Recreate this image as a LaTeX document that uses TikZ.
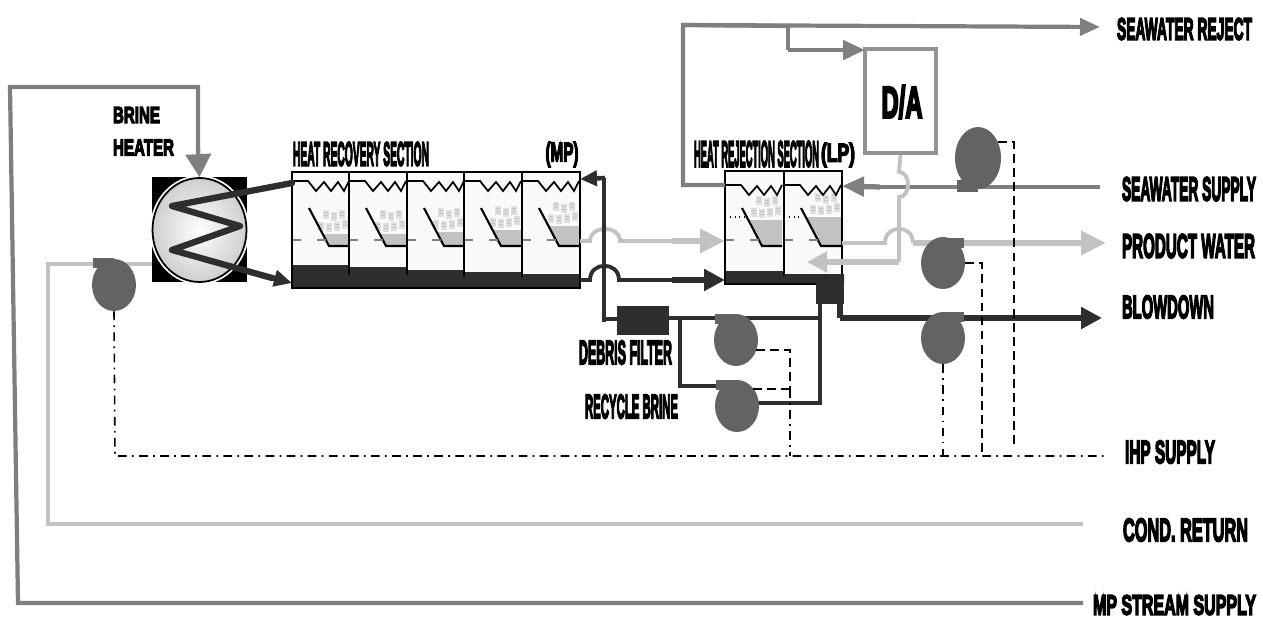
\documentclass[tikz,border=0pt]{standalone}
\usepackage{fontspec}
\usepackage{xcolor}
\usetikzlibrary{arrows.meta, positioning, shapes.geometric, calc}
\newfontfamily\lblfont[BoldFeatures={FakeBold=6}]{Liberation Sans}
\definecolor{steamgray}{HTML}{7F7F7F}
\definecolor{palegray}{HTML}{C2C2C2}
\definecolor{brinedark}{HTML}{2E2E2E}
\definecolor{pumpgray}{HTML}{636363}
\newlength\pxu
\setlength\pxu{0.02cm}
\newcommand{\fitlbl}[3]{\resizebox*{#1\pxu}{#2\pxu}{\lblfont\bfseries #3}}

%% one flash stage: left wall x, pool top y, coil y
\newcommand{\stagebits}[3]{%
  \fill[palegray] (#1+17+0.526*#2-109.4,#2) -- (#1+57,#2) -- (#1+57,246) -- (#1+37,246) -- cycle;
  \foreach \dx/\dy in {31/24, 39/22, 47/24, 26/12, 34/11, 42/12, 50/14}{
    \fill[gray!25] (#1+\dx,#2-\dy) rectangle ++(6,9);
    \draw[gray!60, line width=.3pt] (#1+\dx+1,#2-\dy+2) -- ++(4,1) (#1+\dx+1,#2-\dy+5) -- ++(4,1);
  }
  \draw[black, line width=1pt] (#1,#3) -- ++(16,0) -- ++(8,10) -- ++(8,-9) -- ++(7,9)
    -- ++(7,-9) -- ++(6,9) -- ++(5,-10);
  \draw[black, line width=1.2pt] (#1+17,208) -- (#1+37,246) -- (#1+57,246);
  \draw[gray, line width=.7pt] (#1,240) -- ++(9,0) (#1+25,240) -- ++(9,0);
}

\begin{document}
\begin{tikzpicture}[x=0.02cm, y=-0.02cm,
  lbl/.style={inner sep=0pt, outer sep=0pt},
  wall/.style={black, line width=1.3pt},
  steamline/.style={draw=steamgray, line width=2.4pt},
  paleline/.style={draw=palegray, line width=2.2pt},
  brineline/.style={draw=brinedark, line width=2.2pt},
  brineshaft/.style={draw=brinedark, line width=3.6pt},
  steamarr/.style={-{Triangle[length=.46cm, width=.5cm]}, draw=steamgray, fill=steamgray, line width=2.4pt},
  smallarr/.style={-{Triangle[length=.44cm, width=.38cm]}, draw=steamgray, fill=steamgray, line width=2.7pt},
  palearr/.style={-{Triangle[length=.5cm, width=.46cm]}, draw=palegray, fill=palegray, line width=3.6pt},
  brinearr/.style={-{Triangle[length=.42cm, width=.42cm]}, draw=brinedark, fill=brinedark, line width=3.6pt},
  pumpbody/.style={ellipse, fill=pumpgray, inner sep=0pt, minimum width=.88cm, minimum height=1.04cm},
  spout/.style={fill=pumpgray},
  ctrldash/.style={black, line width=.9pt, dash pattern=on 5pt off 3pt},
  ctrlmix/.style={black, line width=.9pt, dash pattern=on 5pt off 3pt on 1pt off 3pt},
  heaterball/.style={ellipse, draw=black, line width=1pt, inner sep=0pt,
    minimum width=1.88cm, minimum height=2.08cm, inner color=white, outer color=gray!38,
    preaction={draw=white, line width=3pt}}
]
\useasboundingbox (0,0) rectangle (1263,619);

%% ==== Labels ====
\node[lbl] (lblReject) at (1184.5,29) {\fitlbl{135}{22}{SEAWATER REJECT}};
\node[lbl] (lblSupply) at (1189,189) {\fitlbl{134}{24}{SEAWATER SUPPLY}};
\node[lbl] (lblProduct) at (1188.5,246) {\fitlbl{133}{24}{PRODUCT WATER}};
\node[lbl] (lblBlow) at (1168,307) {\fitlbl{92}{23}{BLOWDOWN}};
\node[lbl] (lblIhp) at (1170,452) {\fitlbl{90}{23}{IHP SUPPLY}};
\node[lbl] (lblCond) at (1185.5,530) {\fitlbl{125}{23}{COND. RETURN}};
\node[lbl] (lblMp) at (1174.5,605) {\fitlbl{163}{20}{MP STREAM SUPPLY}};
\node[lbl] (lblBrine) at (136.5,115) {\fitlbl{47}{16}{BRINE}};
\node[lbl] (lblHeater) at (143.5,147.5) {\fitlbl{61}{16}{HEATER}};
\node[lbl] (lblRecovery) at (361,154) {\fitlbl{136}{24}{HEAT RECOVERY SECTION}};
\node[lbl] (lblMpStage) at (562,154.5) {\fitlbl{33}{25}{(MP)}};
\node[lbl] (lblRejection) at (756.5,154) {\fitlbl{125}{26}{HEAT REJECTION SECTION}};
\node[lbl] (lblLp) at (838,155) {\fitlbl{34}{24}{(LP)}};
\node[lbl] (lblDebris) at (625.5,352.5) {\fitlbl{93}{24}{DEBRIS FILTER}};
\node[lbl] (lblRecycle) at (631.5,406.5) {\fitlbl{93}{24}{RECYCLE BRINE}};

%% ==== Junctions ====
\coordinate (rejCorner) at (683,25);
\coordinate (rejTip) at (1100,27);
\coordinate (daTee) at (788,26);
\coordinate (daBend) at (788,50);
\coordinate (daIn) at (865,50);
\coordinate (ihpEnd) at (1108,456);
\coordinate (ihpStart) at (115,456);
\coordinate (mpEnd) at (1083,603);
\coordinate (mpLow) at (18,603);
\coordinate (mpHigh) at (10,87);
\coordinate (mpRight) at (198,87);
\coordinate (condEnd) at (1083,524);
\coordinate (condIn) at (152,264);
\coordinate (loopDown) at (820,304);
\coordinate (blowOut) at (840,304);
\coordinate (blowBend) at (840,318);
\coordinate (blowTip) at (1102,318);

%% ==== Main equipment ====
\fill[black] (152,177) rectangle (247,282);
\node[heaterball] (heater) at (199.5,230) {};
\fill[white] (292,171) rectangle (580,288);
\fill[gray!4] (292,171) rectangle (580,275);
\fill[white] (725,171) rectangle (842,284);
\fill[gray!4] (725,171) rectangle (842,275);

%% ==== Recovery stages ====
\fill[brinedark] (292,265) -| (349,267) -| (407,270) -| (464,272) -| (522,274) -| (580,288) -- (292,288) -- cycle;
\foreach \x/\pool in {292/234, 349/234, 407/232, 464/230, 522/226}
  \stagebits{\x}{\pool}{181};
\draw[wall] (292,172) rectangle (580,288);
\foreach \x/\yend in {349/275, 407/275, 464/277, 522/277}
  \draw[wall] (\x,172) -- (\x,\yend);

%% ==== Rejection stages ====
\fill[brinedark] (725,271) -| (784,274) -| (844,284) -- (725,284) -- cycle;
\foreach \x/\pool in {725/220, 784/217}
  \stagebits{\x}{\pool}{185};
\draw[black, line width=.7pt, dotted] (725,217) -- (745,217) (784,217) -- (802,217);
\draw[wall] (725,171) rectangle (842,284);
\draw[wall] (784,171) -- (784,276);
\node[fill=brinedark, minimum width=.56cm, minimum height=.6cm, inner sep=0pt] (flashbox) at (830,289) {};

%% ==== D/A ====
\node[draw=gray!85, line width=2.4pt, minimum width=1.42cm, minimum height=2.08cm, inner sep=0pt] (da) at (900.5,101) {};
\node[lbl] (daText) at (902,102) {\fitlbl{41}{33}{D/A}};

%% ==== Seawater and steam ====
\draw[steamline] (725,185) -| (rejCorner) -- (daTee);
\draw[steamarr, -{Triangle[length=.4cm, width=.34cm]}] (rejCorner) -- (rejTip);
\draw[steamline, line width=2.7pt] (daTee) -- (daBend);
\draw[smallarr] (daBend) -- (daIn);
\draw[steamline, line width=2.2pt] (1100,187) -- (880,187);
\draw[smallarr, line width=3pt] (880,187) -- (842,186);
\draw[steamline] (mpEnd) -- (mpLow) -- (mpHigh) -- (mpRight) -- (198,150);
\draw[steamarr] (198,148) -- (heater.north);

%% ==== Heater tube ====
\draw[brinedark, line width=3.6pt, line join=round, line cap=round] (292,183) -- (172,206) -- (240,226) -- (172,250) -- (272,278);
\draw[brinedark, -{Triangle[length=.36cm, width=.32cm]}, line width=3pt] (270,277) -- (292,283);

%% ==== Condensate, product ====
\draw[paleline] (condEnd) -| (48,264) -- (condIn);
\draw[paleline] (da.south) -- (899,172) .. controls (911,172) and (911,197) .. (899,197) -- (899,262);
\draw[palearr, -{Triangle[length=.4cm, width=.4cm]}, line width=3pt] (899,262) -- (807,262);
\draw[paleline] (842,243) -- (885,243) .. controls (885,224) and (913,224) .. (913,243);
\draw[palearr] (913,243) -- (1106,243);
\draw[paleline] (580,241) -- (590,241) .. controls (590,225) and (620,225) .. (620,241) -- (672,241);
\draw[palearr] (672,241) -- (725,241);

%% ==== Brine loop ====
\draw[brineline] (580,280) -- (590,280) .. controls (590,261) and (619,261) .. (619,280) -- (672,280);
\draw[brinearr] (672,280) -- (725,280);
\draw[brineline] (604,178) -- (604,322);
\draw[brinearr, -{Triangle[length=.34cm, width=.3cm]}, line width=2.6pt] (605,178) -- (580,179);
\draw[brineline] (604,319) -- (617,319);
\draw[brineline] (669,318) -- (818,318);
\draw[brineline] (680,318) -- (680,386) -- (716,386);
\draw[brineline] (737,403) -- (820,403) -- (loopDown);
\node[fill=brinedark, minimum width=1.04cm, minimum height=.58cm, inner sep=0pt] (debris) at (643,320.5) {};
\draw[brineshaft] (blowOut) -- (blowBend);
\draw[brinearr] (blowBend) -- (blowTip);

%% ==== Pumps ====
\node[pumpbody] (pumpFeed) at (114,285) {};
\fill[spout] (93,258) rectangle (114,268);
\node[pumpbody] (pumpRecA) at (736,340) {};
\fill[spout] (715,314) rectangle (736,324);
\node[pumpbody] (pumpRecB) at (737,406) {};
\fill[spout] (716,380) rectangle (737,390);
\node[pumpbody] (pumpProduct) at (943,263) {};
\fill[spout] (943,238) rectangle (964,248);
\node[pumpbody] (pumpBlow) at (943,338) {};
\fill[spout] (943,312) rectangle (964,322);
\node[pumpbody, minimum width=.92cm, minimum height=1.24cm] (pumpSea) at (978,158) {};
\fill[spout] (957,180) rectangle (978,192);

%% ==== Control lines ====
\draw[ctrlmix] (pumpFeed.south) -- (ihpStart) -- (ihpEnd);
\draw[ctrlmix] (pumpBlow.south) -- (943,456);
\draw[ctrldash] (756,350) -- (790,350) -- (790,389);
\draw[ctrldash] (753,389) -- (790,389);
\draw[ctrlmix] (790,389) -- (790,456);
\draw[ctrldash] (pumpProduct.east) -- (982,263) -- (982,456);
\draw[ctrldash] (998,142) -- (1014,142) -- (1014,447);

\end{tikzpicture}
\end{document}
